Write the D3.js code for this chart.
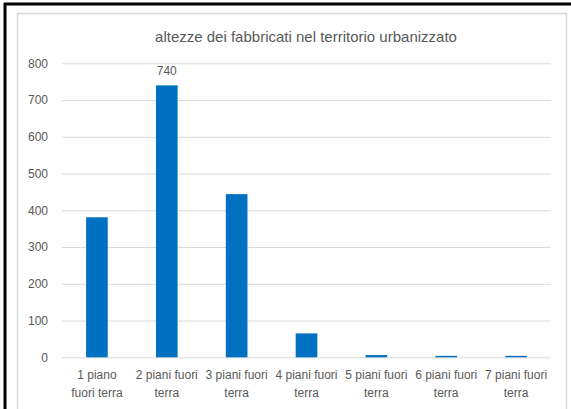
<!DOCTYPE html>
<html>
<head>
<meta charset="utf-8">
<script src="https://cdn.jsdelivr.net/npm/d3@7"></script>
<style>
  html, body { margin: 0; padding: 0; background: #fff; }
  svg { display: block; }
  text { font-family: "Liberation Sans", Arial, sans-serif; fill: #595959; }
</style>
</head>
<body>
<svg id="chart" width="571" height="409"></svg>
<script>
// Number of buildings by height (floors above ground)
const categories = [
  "1 piano\nfuori terra",
  "2 piani fuori\nterra",
  "3 piani fuori\nterra",
  "4 piani fuori\nterra",
  "5 piani fuori\nterra",
  "6 piani fuori\nterra",
  "7 piani fuori\nterra"
];
const values = [381, 740, 444, 65, 6, 4, 4];
const yTicks = [0, 100, 200, 300, 400, 500, 600, 700, 800];
const labelledValues = [740];
const title = "altezze dei fabbricati nel territorio urbanizzato";

const svg = d3.select("#chart");
const W = 571, H = 409;

// outer frame: black rule on top and left, light chart border inside
svg.append("rect").attr("x", 0).attr("y", 0).attr("width", W).attr("height", H).attr("fill", "#fff");
svg.append("line").attr("x1", 4).attr("x2", W).attr("y1", 4).attr("y2", 4)
  .attr("stroke", "#000").attr("stroke-width", 3);
svg.append("line").attr("x1", 5).attr("x2", 5).attr("y1", 3).attr("y2", H)
  .attr("stroke", "#000").attr("stroke-width", 3);
svg.append("rect").attr("x", 17.5).attr("y", 13.5).attr("width", 549).attr("height", H)
  .attr("fill", "#fff").attr("stroke", "#d9d9d9").attr("stroke-width", 1.5);

const plot = { left: 62, right: 551, top: 63.3, bottom: 357.3 };

const x = d3.scaleBand().domain(categories).range([plot.left, plot.right]).paddingInner(0.69).paddingOuter(0.345);
const y = d3.scaleLinear().domain([0, 800]).range([plot.bottom, plot.top]);

// gridlines and y labels
const yAxis = d3.axisLeft(y).tickValues(yTicks).tickSize(-(plot.right - plot.left)).tickPadding(14);
const gy = svg.append("g").attr("transform", `translate(${plot.left},0)`).call(yAxis);
gy.select(".domain").remove();
gy.selectAll(".tick line").attr("stroke", "#d9d9d9").attr("stroke-width", 1);
gy.selectAll(".tick text").attr("font-size", 12).attr("fill", "#595959")
  .style("font-family", "'Liberation Sans', Arial, sans-serif");

// bars
svg.append("g").selectAll("rect").data(values).join("rect")
  .attr("x", (d, i) => x(categories[i]))
  .attr("width", x.bandwidth())
  .attr("y", d => y(d))
  .attr("height", d => y(0) - y(d))
  .attr("fill", "#0070c0");

// value label
svg.append("g").selectAll("text").data(values.map((v, i) => ({ v, i })).filter(d => labelledValues.includes(d.v)))
  .join("text")
  .attr("x", d => x(categories[d.i]) + x.bandwidth() / 2)
  .attr("y", d => y(d.v) - 10)
  .attr("text-anchor", "middle")
  .attr("font-size", 12)
  .text(d => d.v);

// category labels (two lines each)
const gx = svg.append("g");
categories.forEach(c => {
  const t = gx.append("text")
    .attr("x", x(c) + x.bandwidth() / 2)
    .attr("y", 379)
    .attr("text-anchor", "middle")
    .attr("font-size", 12);
  c.split("\n").forEach((line, k) => {
    t.append("tspan").attr("x", x(c) + x.bandwidth() / 2).attr("dy", k === 0 ? 0 : 18).text(line);
  });
});

// title
svg.append("text")
  .attr("x", 306).attr("y", 42)
  .attr("text-anchor", "middle")
  .attr("font-size", 15)
  .text(title);
</script>
</body>
</html>
